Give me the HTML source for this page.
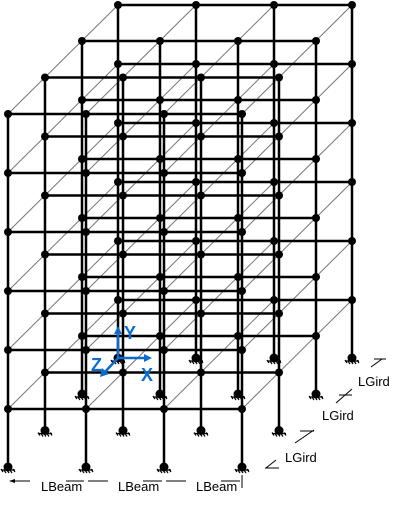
<!DOCTYPE html>
<html><head><meta charset="utf-8"><style>
html,body{margin:0;padding:0;background:#fff;}
svg{display:block;font-family:"Liberation Sans",Arial,sans-serif;}
</style></head><body>
<svg id="c" width="405" height="512" viewBox="0 0 405 512">
<g id="girders"></g>
<g id="beams"></g>
<g id="cols"></g>
<g id="nodes"></g>
<g id="supports"></g>
<g stroke="#0a6bd0" stroke-width="2.5" fill="#0a6bd0">
 <line x1="118" y1="358" x2="118" y2="331"/>
 <polygon points="118,326 114,334 122,334" stroke="none"/>
 <line x1="118" y1="358" x2="146" y2="358"/>
 <polygon points="152,358 144,354 144,362" stroke="none"/>
 <line x1="118" y1="358" x2="104" y2="373"/>
 <polygon points="100,377 102,368 109,374" stroke="none"/>
 <text x="124" y="339" font-size="18" font-weight="bold" stroke="none">Y</text>
 <text x="141" y="381" font-size="18" font-weight="bold" stroke="none">X</text>
 <text x="91" y="371" font-size="18" font-weight="bold" stroke="none">Z</text>
</g>
<g stroke="#000" stroke-width="1" fill="#000" font-size="13">
 <line x1="10" y1="481" x2="30" y2="481"/><polygon points="9,481 15,479 15,483" stroke="none"/>
 <line x1="66" y1="481" x2="84" y2="481"/><line x1="88" y1="481" x2="108" y2="481"/>
 <line x1="143" y1="481" x2="162" y2="481"/><line x1="166" y1="481" x2="186" y2="481"/>
 <line x1="221" y1="481" x2="240" y2="481"/><line x1="242" y1="475" x2="242" y2="488"/>
 <text x="41" y="491" stroke="none">LBeam</text>
 <text x="118" y="491" stroke="none">LBeam</text>
 <text x="196" y="491" stroke="none">LBeam</text>
 <line x1="266" y1="468" x2="276" y2="460"/><line x1="265" y1="468" x2="279" y2="468"/>
 <line x1="295" y1="443" x2="314" y2="430"/><line x1="300" y1="431" x2="314" y2="431"/>
 <line x1="336" y1="403" x2="352" y2="389"/><line x1="339" y1="395" x2="352" y2="395"/>
 <line x1="371" y1="367" x2="382" y2="359"/><line x1="374" y1="359" x2="386" y2="359"/>
 <text x="285" y="462" stroke="none">LGird</text>
 <text x="322" y="420" stroke="none">LGird</text>
 <text x="358" y="386" stroke="none">LGird</text>
</g>
</svg>
<script>
const colX = [8, 86, 164, 242];
const floorY = [114, 173, 232, 291, 350, 409];
const baseY = 467;
const depthDX = [0, 37, 74, 110];
const depthDY = [0, -36.5, -73, -109];
const NS = 'http://www.w3.org/2000/svg';
function mk(g, tag, a) {
  const e = document.createElementNS(NS, tag);
  for (const k in a) e.setAttribute(k, a[k]);
  document.getElementById(g).appendChild(e);
  return e;
}
for (let d = depthDX.length - 1; d >= 0; d--) {
  const dx = depthDX[d], dy = depthDY[d];
  colX.forEach((x, i) => {
    const c = mk('cols', 'line', {x1: x + dx, y1: floorY[0] + dy, x2: x + dx, y2: baseY + dy, stroke: '#000', 'stroke-width': 2.5});
    
    
    const s = mk('supports', 'g', {});
    
    
    const sx = x + dx, sy = baseY + dy;
    const dot = document.createElementNS(NS, 'circle');
    dot.setAttribute('cx', sx); dot.setAttribute('cy', sy); dot.setAttribute('r', 4.5); dot.setAttribute('fill', '#000');
    s.appendChild(dot);
    const h = document.createElementNS(NS, 'path');
    h.setAttribute('d', `M${sx-7},${sy+2}l2,3M${sx-4},${sy+3}l2,3M${sx-1},${sy+3}l2,3M${sx+2},${sy+3}l2,3M${sx+5},${sy+2}l2,3M${sx-7},${sy+3}h14`);
    h.setAttribute('stroke', '#000'); h.setAttribute('stroke-width', 1.2); h.setAttribute('fill', 'none');
    s.appendChild(h);
  });
  floorY.forEach(y => {
    const b = mk('beams', 'line', {x1: colX[0] + dx, y1: y + dy, x2: colX[colX.length - 1] + dx, y2: y + dy, stroke: '#000', 'stroke-width': 2.5});
    
    
    colX.forEach(x => {
      const n = mk('nodes', 'circle', {cx: x + dx, cy: y + dy, r: 4, fill: '#000'});
      
      
    });
  });
}
const last = depthDX.length - 1;
colX.forEach(x => {
  floorY.forEach(y => {
    const g = mk('girders', 'line', {x1: x, y1: y, x2: x + depthDX[last], y2: y + depthDY[last], stroke: '#777', 'stroke-width': 1});
    
    
  });
});
</script>
</body></html>
